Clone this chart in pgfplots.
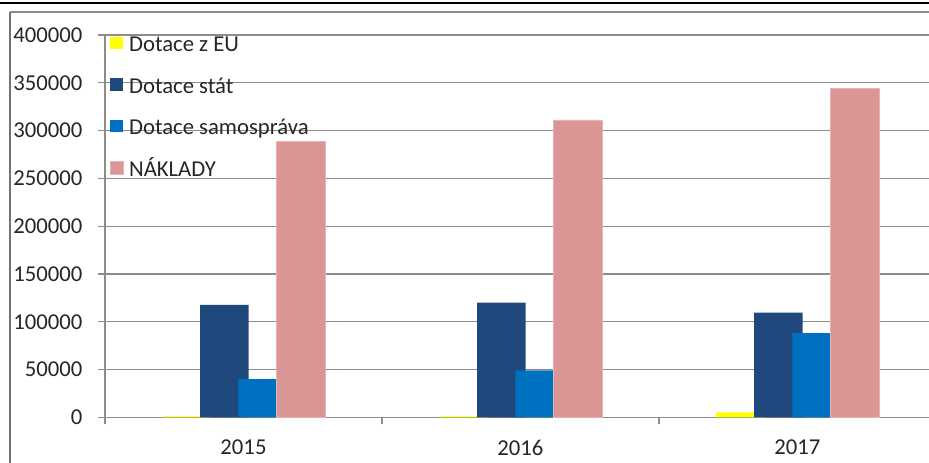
\documentclass[border=0pt]{standalone}
\usepackage{fontspec}
\setmainfont{Carlito}
\usepackage{pgfplots}
\pgfplotsset{compat=1.18}
\definecolor{cEU}{HTML}{FFFF00}
\definecolor{cStat}{HTML}{1F497D}
\definecolor{cSam}{HTML}{0070C0}
\definecolor{cNak}{HTML}{D99694}
\definecolor{gridc}{HTML}{8C8C8C}
\begin{document}
\begin{tikzpicture}[x=1pt,y=1pt]
\begin{axis}[
  at={(0pt,0pt)}, anchor=south west,
  scale only axis, width=824pt, height=382.3pt,
  xmin=-0.5, xmax=2.475, ymin=0, ymax=400000,
  ybar, bar width=0.175,
  axis x line*=bottom, axis y line*=left,
  axis line style={gridc, line width=1.2pt},
  xtick={0,1,2}, xticklabels={2015,2016,2017},
  minor xtick={-0.5,0.5,1.5},
  major x tick style={draw=none},
  ytick={0,50000,...,400000},
  scaled y ticks=false,
  /pgf/number format/fixed,
  /pgf/number format/1000 sep={},
  /pgf/number format/assume math mode=true,
  tick align=outside, major tick length=7pt, minor tick length=7pt,
  tick style={gridc, line width=1.2pt},
  ymajorgrids, grid style={gridc, line width=1.2pt},
  ticklabel style={font=\fontsize{22.7}{27}\selectfont, text=black!85},
  yticklabel style={xshift=-12pt},
  xticklabel style={yshift=-12pt},
  legend style={at={(0,1)}, anchor=north west, xshift=5pt, yshift=-0.5pt,
    draw=none, fill=none, inner sep=0pt, row sep=20.6pt,
    font=\fontsize{22.7}{27}\selectfont, text=black!85,
    nodes={inner sep=0pt, text height=16pt, text depth=5pt}},
  legend cell align=left,
  legend image code/.code={\fill[#1] (0pt,-3pt) rectangle (12.5pt,9.5pt);},
  /tikz/every odd column/.append style={column sep=6pt},
  clip=true,
]
\addplot[fill=cEU, draw=none, bar shift=-0.207] coordinates {(0,1000) (1,1000) (2,5200)};
\addplot[fill=cStat, draw=none, bar shift=-0.069] coordinates {(0,117500) (1,120000) (2,109500)};
\addplot[fill=cSam, draw=none, bar shift=0.069] coordinates {(0,40000) (1,49000) (2,88200)};
\addplot[fill=cNak, draw=cNak!70!white, bar shift=0.207] coordinates {(0,289000) (1,311300) (2,344100)};
\legend{Dotace z EU, Dotace stát, Dotace samospráva, NÁKLADY}
\end{axis}
\draw[black, line width=2.2pt] (-105,414.3) -- (824,414.3);
\draw[gridc, line width=1.5pt] (-95,405.3) -- (824,405.3);
\draw[black!55, line width=2.5pt] (-95,405.3) -- (-95,-45.7);
\pgfresetboundingbox
\useasboundingbox (-105,-45.7) rectangle (824,417.3);
\end{tikzpicture}
\end{document}
